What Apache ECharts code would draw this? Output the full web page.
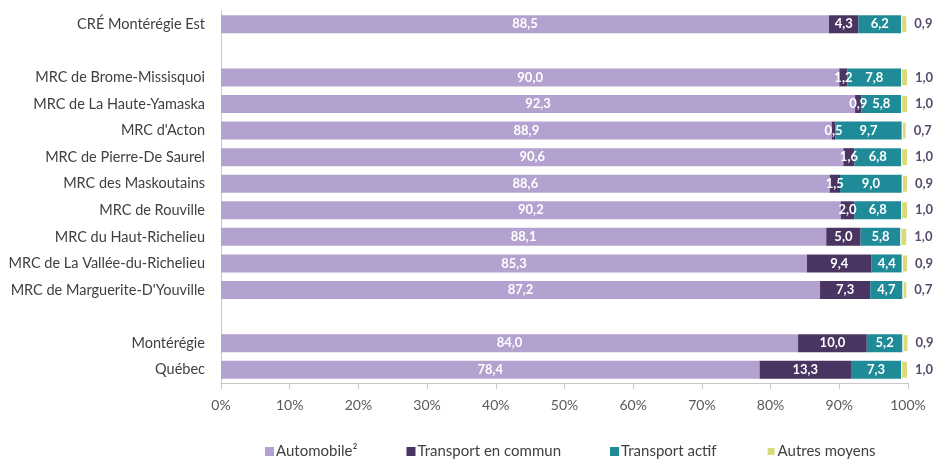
<!DOCTYPE html>
<html>
<head>
<meta charset="utf-8">
<script src="https://cdn.jsdelivr.net/npm/echarts@6/dist/echarts.min.js"></script>
<style>
  html, body { margin: 0; padding: 0; background: #fff; }
  #chart { width: 935px; height: 461px; }
</style>
</head>
<body>
<div id="chart"></div>
<script>
// Rows, top to bottom; blank names are spacer rows between groups
const categories = [
  'CRÉ Montérégie Est',
  '',
  'MRC de Brome-Missisquoi',
  'MRC de La Haute-Yamaska',
  "MRC d'Acton",
  'MRC de Pierre-De Saurel',
  'MRC des Maskoutains',
  'MRC de Rouville',
  'MRC du Haut-Richelieu',
  'MRC de La Vallée-du-Richelieu',
  "MRC de Marguerite-D'Youville",
  ' ',
  'Montérégie',
  'Québec'
];

const seriesNames = ['Automobile²', 'Transport en commun', 'Transport actif', 'Autres moyens'];

// Mode share (%) per row; null on spacer rows
const automobile       = [88.5, null, 90.0, 92.3, 88.9, 90.6, 88.6, 90.2, 88.1, 85.3, 87.2, null, 84.0, 78.4];
const transportCommun  = [4.3,  null, 1.2,  0.9,  0.5,  1.6,  1.5,  2.0,  5.0,  9.4,  7.3,  null, 10.0, 13.3];
const transportActif   = [6.2,  null, 7.8,  5.8,  9.7,  6.8,  9.0,  6.8,  5.8,  4.4,  4.7,  null, 5.2,  7.3];
const autresMoyens     = [0.9,  null, 1.0,  1.0,  0.7,  1.0,  0.9,  1.0,  1.0,  0.9,  0.7,  null, 0.9,  1.0];

const xTicks = [0, 10, 20, 30, 40, 50, 60, 70, 80, 90, 100];

const colors = ['#b3a2cf', '#4a3461', '#1f8b98', '#d7dc79'];
const fontFamily = 'Lato, "Open Sans", sans-serif';

const fmt = v => v.toFixed(1).replace('.', ',');
const isEmpty = v => v == null || v === '-';

const dataSets = [automobile, transportCommun, transportActif, autresMoyens];

const series = dataSets.map((arr, i) => ({
  name: seriesNames[i],
  type: 'bar',
  stack: 'total',
  barWidth: 18,
  data: arr.map(v => (v == null ? '-' : v)),
  itemStyle: i === 3
    ? { color: colors[i], borderColor: '#ffffff', borderWidth: 1 }
    : { color: colors[i] },
  label: i === 3
    ? {
        show: true,
        position: 'right',
        distance: 7,
        color: '#5a4a6c',
        fontFamily,
        fontSize: 13,
        fontWeight: 'bold',
        formatter: p => (isEmpty(p.value) ? '' : fmt(p.value))
      }
    : {
        show: true,
        position: 'inside',
        color: '#ffffff',
        fontFamily,
        fontSize: 13,
        fontWeight: 'bold',
        formatter: p => (isEmpty(p.value) ? '' : fmt(p.value))
      },
  emphasis: { disabled: true },
  animation: false
}));

const chart = echarts.init(document.getElementById('chart'), null, { renderer: 'canvas' });
chart.setOption({
  animation: false,
  color: colors,
  grid: { left: 221, right: 27, top: 11, bottom: 78, containLabel: false },
  xAxis: {
    type: 'value',
    min: xTicks[0],
    max: xTicks[xTicks.length - 1],
    interval: 10,
    axisLine: { show: true, lineStyle: { color: '#c8c8c8', width: 1 } },
    axisTick: { show: true, length: 6, lineStyle: { color: '#c8c8c8' } },
    splitLine: { show: false },
    axisLabel: {
      color: '#595959',
      fontFamily,
      fontSize: 14,
      margin: 15,
      formatter: v => v + '%'
    }
  },
  yAxis: {
    type: 'category',
    inverse: true,
    data: categories,
    axisLine: { show: true, lineStyle: { color: '#c8c8c8', width: 1 } },
    axisTick: { show: false },
    axisLabel: {
      color: '#404040',
      fontFamily,
      fontSize: 14.5,
      margin: 16
    }
  },
  legend: {
    top: 439,
    left: 260,
    itemWidth: 9,
    itemHeight: 9,
    itemGap: 49,
    icon: 'rect',
    textStyle: { color: '#404040', fontFamily, fontSize: 15, padding: [0, 0, 0, -3] },
    data: seriesNames
  },
  series
});
</script>
</body>
</html>
